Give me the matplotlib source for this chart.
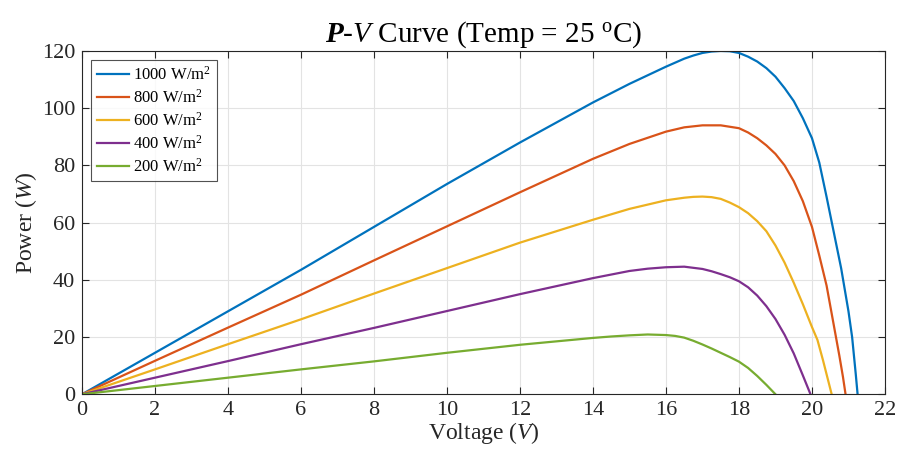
import matplotlib
matplotlib.use('Agg')
import matplotlib.pyplot as plt

v1000 = [0, 2, 4, 6, 8, 10, 12, 14, 15, 16, 16.5, 16.75, 17, 17.25, 17.5, 17.75, 18, 18.25, 18.5, 18.75,
         19, 19.25, 19.5, 19.75, 20, 20.2, 20.4, 20.6, 20.8, 21.0, 21.1, 21.2, 21.25]
p1000 = [0, 14.5, 29, 43.5, 58.5, 73.5, 88, 102, 108.5, 114.5, 117.3, 118.4, 119.3, 119.8, 120, 119.9, 119.3, 118, 116.3, 114,
         111, 107, 102.5, 96.5, 89.5, 81, 69, 56.5, 44, 29, 20, 7, 0]
v800 = [0, 2, 4, 6, 8, 10, 12, 14, 15, 16, 16.5, 17, 17.5, 18, 18.25, 18.5, 18.75, 19, 19.25, 19.5,
        19.75, 20, 20.2, 20.4, 20.6, 20.75, 20.85, 20.92]
p800 = [0, 11.7, 23.3, 34.8, 46.8, 58.7, 70.6, 82.3, 87.5, 91.8, 93.3, 94, 94, 93, 91.5, 89.5, 87, 84, 80, 74.5,
        67.5, 58.5, 48.5, 38, 24, 13.5, 6, 0]
v600 = [0, 2, 4, 6, 8, 10, 12, 14, 15, 16, 16.5, 16.75, 17, 17.25, 17.5, 17.75, 18, 18.25, 18.5, 18.75, 19, 19.25,
        19.5, 19.75, 20, 20.15, 20.3, 20.45, 20.54]
p600 = [0, 8.7, 17.5, 26.2, 35.2, 44.1, 53, 61, 64.8, 67.8, 68.7, 69.0, 69.1, 68.9, 68.3, 67, 65.4, 63.3, 60.5, 57, 52, 46,
        39, 31.5, 23.5, 19, 12, 4.5, 0]
v400 = [0, 2, 4, 6, 8, 10, 12, 13, 14, 15, 15.5, 16, 16.5, 17, 17.25, 17.5, 17.75, 18, 18.25, 18.5, 18.75, 19, 19.25,
        19.5, 19.75, 19.96]
p400 = [0, 5.8, 11.6, 17.5, 23.2, 29.1, 35, 37.8, 40.6, 43.1, 43.9, 44.4, 44.6, 43.8, 43.0, 42.0, 40.9, 39.5, 37.4, 34.5, 30.8, 26.3, 20.8,
        14.3, 6.6, 0]
v200 = [0, 2, 4, 6, 8, 10, 12, 13, 14, 14.5, 15, 15.5, 16, 16.25, 16.5, 16.75, 17, 17.25, 17.5, 17.75, 18, 18.25, 18.5, 18.75, 19]
p200 = [0, 2.9, 5.8, 8.7, 11.5, 14.5, 17.3, 18.5, 19.7, 20.2, 20.6, 20.9, 20.7, 20.4, 19.8, 18.7, 17.4, 16.0, 14.5, 13.0, 11.4, 9.2, 6.4, 3.3, 0]
labels = ['1000 W/m$^2$', '800 W/m$^2$', '600 W/m$^2$', '400 W/m$^2$', '200 W/m$^2$']
colors = ['#0072BD', '#D95319', '#EDB120', '#7E2F8E', '#77AC30']

plt.rcParams['font.family'] = ['Liberation Serif', 'DejaVu Serif']
plt.rcParams['mathtext.fontset'] = 'custom'
plt.rcParams['mathtext.rm'] = 'Liberation Serif'
plt.rcParams['mathtext.it'] = 'Liberation Serif:italic'
plt.rcParams['mathtext.bf'] = 'Liberation Serif:bold:italic'

fig = plt.figure(figsize=(9, 4.59), dpi=100)
ax = fig.add_axes([0.0911, 0.141, 0.8922, 0.748])

curves = [(v1000, p1000), (v800, p800), (v600, p600), (v400, p400), (v200, p200)]
for (v, p), lab, c in zip(curves, labels, colors):
    ax.plot(v, p, color=c, lw=1.6, label=lab)

ax.set_xlim(0, 22)
ax.set_ylim(0, 120)
ax.set_xticks(range(0, 23, 2))
ax.set_yticks(range(0, 121, 20))
ax.grid(True, color='#e3e3e3', lw=0.8)
ax.set_axisbelow(True)
ax.tick_params(direction='in', top=True, right=True, length=5, width=0.8,
               labelsize=16, colors='#262626', pad=5)
for s in ax.spines.values():
    s.set_color('#262626')
    s.set_linewidth(0.8)

ax.set_xlabel('Voltage ($\\mathit{V}$)', fontsize=17, color='#262626', labelpad=0)
ax.set_ylabel('Power ($\\mathit{W}$)', fontsize=17, color='#262626', labelpad=2)
ax.set_title('$\\mathbf{P}$-$\\mathit{V}$ Curve (Temp = 25 $^{\\mathrm{o}}$C)', fontsize=21, pad=7)

leg = ax.legend(loc='upper left', fontsize=12, frameon=True, fancybox=False,
                borderaxespad=0.55, handlelength=1.9, labelspacing=0.3, borderpad=0.35,
                handletextpad=0.25)
leg.get_frame().set_edgecolor('#262626')
leg.get_frame().set_linewidth(0.8)

plt.savefig('out.png', dpi=100)
